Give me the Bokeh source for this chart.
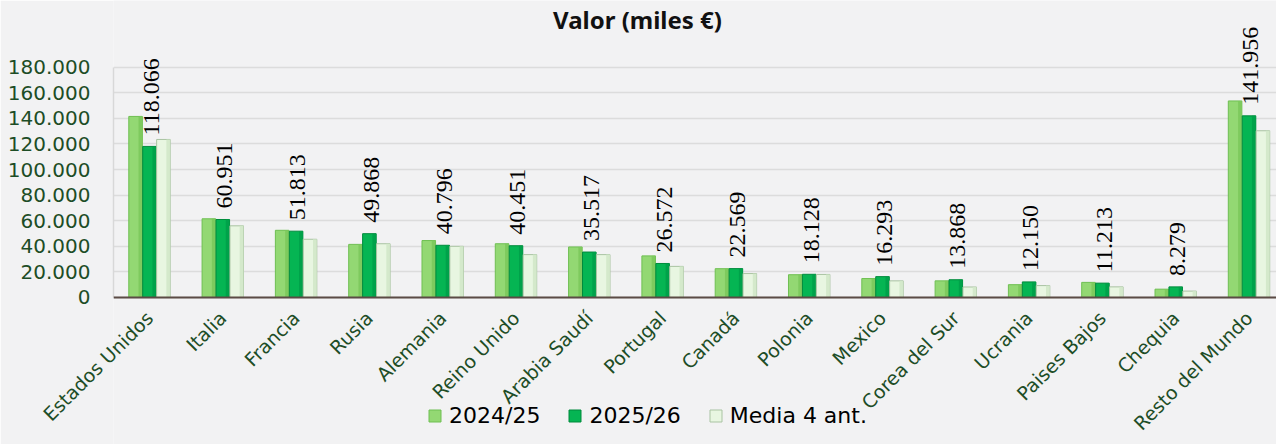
import math
from bokeh.plotting import figure
from bokeh.models import (ColumnDataSource, Range1d, FixedTicker, Span,
                          Legend, LegendItem, LabelSet, Label)
from bokeh.transform import dodge
from bokeh.embed import file_html
from bokeh.resources import INLINE

countries = ["Estados Unidos", "Italia", "Francia", "Rusia", "Alemania", "Reino Unido",
             "Arabia Saudí", "Portugal", "Canadá", "Polonia", "Mexico", "Corea del Sur",
             "Ucrania", "Paises Bajos", "Chequia", "Resto del Mundo"]
v2024_25 = [141500, 61500, 52500, 41500, 44500, 42000, 39500, 32500,
            22500, 17800, 14800, 13000, 10000, 11800, 6500, 153600]
v2025_26 = [118066, 60951, 51813, 49868, 40796, 40451, 35517, 26572,
            22569, 18128, 16293, 13868, 12150, 11213, 8279, 141956]
media4 = [123500, 56000, 45500, 42000, 40000, 33500, 33500, 24300,
          18700, 18000, 13000, 8200, 9300, 8300, 5000, 130300]
series_names = ["2024/25", "2025/26", "Media 4 ant."]
title_text = "Valor (miles €)"
y_ticks = list(range(0, 180001, 20000))

idx = list(range(len(countries)))
labels = [f"{v:,}".replace(",", ".") for v in v2025_26]
src = ColumnDataSource(dict(x=idx, a=v2024_25, b=v2025_26, c=media4, lab=labels))

BG = "#f2f2f3"
GREEN_TXT = "#1d4d26"

# frame spans the full height so that labels / legend are inside it
p = figure(width=1276, height=444, output_backend="svg", toolbar_location=None,
           x_range=Range1d(-0.491, 15.375), y_range=Range1d(-114900, 232100),
           min_border_left=113, min_border_right=0, min_border_top=0, min_border_bottom=0,
           background_fill_color=BG, border_fill_color=BG, outline_line_color=None)

# title
p.add_layout(Label(x=524, y=425, x_units="screen", y_units="screen", text=title_text,
                   text_align="center", text_baseline="middle", text_font="Noto Sans",
                   text_font_size="24px", text_font_style="bold", text_color="#111111"))

# y axis
yax = p.yaxis[0]
yax.ticker = FixedTicker(ticks=y_ticks, minor_ticks=[])
yax.bounds = (y_ticks[0], y_ticks[-1])
yax.major_label_overrides = {t: f"{t:,}".replace(",", ".") for t in y_ticks}
yax.major_label_text_font = "DejaVu Sans"
yax.major_label_text_font_size = "20px"
yax.major_label_text_color = GREEN_TXT
yax.major_tick_line_color = None
yax.major_tick_out = 0
yax.minor_tick_line_color = None
yax.axis_line_color = "#d8d8d8"
yax.axis_line_width = 1.5
yax.major_label_standoff = 23

p.ygrid.ticker = FixedTicker(ticks=y_ticks, minor_ticks=[])
p.ygrid.grid_line_color = "#dcdcdc"
p.ygrid.grid_line_width = 1.5
p.xgrid.visible = False

# x axis: category labels pulled up under the zero line
xax = p.xaxis[0]
xax.ticker = FixedTicker(ticks=idx, minor_ticks=[])
xax.major_label_overrides = {i: c for i, c in zip(idx, countries)}
xax.major_label_orientation = math.pi / 4
xax.major_label_text_font = "DejaVu Sans"
xax.major_label_text_font_size = "19px"
xax.major_label_text_color = GREEN_TXT
xax.major_label_standoff = -130
xax.axis_line_color = None
xax.major_tick_line_color = None
xax.major_tick_out = 0
xax.major_tick_in = 0
xax.minor_tick_line_color = None

p.add_layout(Span(location=0, dimension="width", line_color="#5b4b45", line_width=2))

# bars
W = 0.185
specs = [
    ("a", -0.19, "#93d873", "#6fbf52", "#7cc95c"),
    ("b", 0.0, "#05b553", "#008a3c", "#00a049"),
    ("c", 0.19, "#e8f6e1", "#a9c3a2", "#d2e8c9"),
]
renderers = []
for col, off, fill, edge, strip in specs:
    r = p.vbar(x=dodge("x", off), top=col, width=W, source=src,
               fill_color=fill, line_color=edge, line_width=1)
    p.vbar(x=dodge("x", off + W * 0.36), top=col, width=W * 0.28, source=src,
           fill_color=strip, line_color=None, fill_alpha=0.9)
    renderers.append(r)

# data labels for 2025/26
p.add_layout(LabelSet(x=dodge("x", 0.025), y="b", text="lab", source=src, angle=math.pi / 2,
                      text_align="left", text_baseline="middle", y_offset=11,
                      text_font="DejaVu Sans", text_font_size="24px", text_color="#000000"))

legend = Legend(items=[LegendItem(label=n, renderers=[r]) for n, r in zip(series_names, renderers)],
                orientation="horizontal", location=(314, 16),
                glyph_width=15, glyph_height=15, label_text_font="DejaVu Sans",
                label_text_font_size="22px", label_text_color="#000000",
                spacing=27, label_standoff=7, background_fill_alpha=0,
                border_line_color=None, padding=0, margin=0)
p.add_layout(legend, "center")

open("out.html", "w").write(file_html(p, INLINE))
